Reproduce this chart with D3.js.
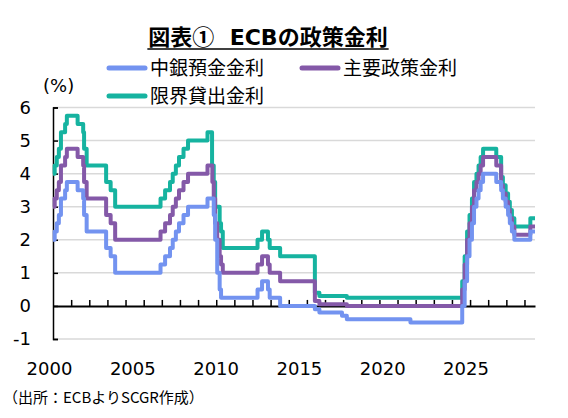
<!DOCTYPE html>
<html>
<head>
<meta charset="utf-8">
<script src="https://d3js.org/d3.v7.min.js"></script>
<style>
  body { margin: 0; background: #fff; }
  svg { display: block; }
</style>
</head>
<body>
<div id="chart"></div>
<script>
// ECB policy rates (%), value in force from each date
const changeDates = [
  "2000-01-01", "2000-02-04", "2000-03-17", "2000-04-28", "2000-06-09", "2000-09-01", "2000-10-06",
  "2001-05-11", "2001-08-31", "2001-09-18", "2001-11-09", "2002-12-06", "2003-03-07", "2003-06-06",
  "2005-12-06", "2006-03-08", "2006-06-15", "2006-08-09", "2006-10-11", "2006-12-13", "2007-03-14",
  "2007-06-13", "2008-07-09", "2008-10-09", "2008-10-15", "2008-11-12", "2008-12-10", "2009-01-21",
  "2009-03-11", "2009-04-08", "2009-05-13", "2011-04-13", "2011-07-13", "2011-11-09", "2011-12-14",
  "2012-07-11", "2014-06-11", "2014-09-10", "2015-12-09", "2016-03-16", "2019-09-18", "2022-07-27",
  "2022-09-14", "2022-11-02", "2022-12-21", "2023-02-08", "2023-03-22", "2023-05-10", "2023-06-21",
  "2023-08-02", "2023-09-20", "2024-06-12", "2024-09-18", "2024-10-23", "2024-12-18", "2025-02-05",
  "2025-03-12", "2025-04-23", "2025-06-11", "2026-04-29", "2026-08-01"
];
const depositRate = [
  2.00, 2.25, 2.50, 2.75, 3.25, 3.50, 3.75,
  3.50, 3.25, 2.75, 2.25, 1.75, 1.50, 1.00,
  1.25, 1.50, 1.75, 2.00, 2.25, 2.50, 2.75,
  3.00, 3.25, 3.25, 3.25, 2.75, 2.00, 1.00,
  0.50, 0.25, 0.25, 0.50, 0.75, 0.50, 0.25,
  0.00, -0.10, -0.20, -0.30, -0.40, -0.50, 0.00,
  0.75, 1.50, 2.00, 2.50, 3.00, 3.25, 3.50,
  3.75, 4.00, 3.75, 3.50, 3.25, 3.00, 2.75,
  2.50, 2.25, 2.00, 2.25, 2.25
];
const mainRate = [
  3.00, 3.25, 3.50, 3.75, 4.25, 4.50, 4.75,
  4.50, 4.25, 3.75, 3.25, 2.75, 2.50, 2.00,
  2.25, 2.50, 2.75, 3.00, 3.25, 3.50, 3.75,
  4.00, 4.25, 4.25, 3.75, 3.25, 2.50, 2.00,
  1.50, 1.25, 1.00, 1.25, 1.50, 1.25, 1.00,
  0.75, 0.15, 0.05, 0.05, 0.00, 0.00, 0.50,
  1.25, 2.00, 2.50, 3.00, 3.50, 3.75, 4.00,
  4.25, 4.50, 4.25, 3.65, 3.40, 3.15, 2.90,
  2.65, 2.40, 2.15, 2.40, 2.40
];
const marginalRate = [
  4.00, 4.25, 4.50, 4.75, 5.25, 5.50, 5.75,
  5.50, 5.25, 4.75, 4.25, 3.75, 3.50, 3.00,
  3.25, 3.50, 3.75, 4.00, 4.25, 4.50, 4.75,
  5.00, 5.25, 4.25, 4.25, 3.75, 3.00, 3.00,
  2.50, 2.25, 1.75, 2.00, 2.25, 2.00, 1.75,
  1.50, 0.40, 0.30, 0.30, 0.25, 0.25, 0.75,
  1.50, 2.25, 2.75, 3.25, 3.75, 4.00, 4.25,
  4.50, 4.75, 4.50, 3.90, 3.65, 3.40, 3.15,
  2.90, 2.65, 2.40, 2.65, 2.65
];
const seriesNames = ["中銀預金金利", "主要政策金利", "限界貸出金利"];
const seriesColors = ["#7393f0", "#8459a8", "#16b3a0"];
const yTicks = [-1, 0, 1, 2, 3, 4, 5, 6];
const yearTicks = d3.range(2001, 2027);
const yearLabels = [2000, 2005, 2010, 2015, 2020, 2025];

const width = 568, height = 418;
const parse = d3.timeParse("%Y-%m-%d");

const svg = d3.select("#chart").append("svg")
  .attr("width", width).attr("height", height);

const x = d3.scaleTime()
  .domain([parse("2000-01-01"), parse("2026-08-01")])
  .range([53, 535]);
const y = d3.scaleLinear().domain([-1, 6]).range([339, 107.5]);
// axis labels sit where the source chart printed them
const xLabel = d3.scaleLinear().domain([2000, 2025]).range([49.5, 466]);

// gridlines
svg.append("g").selectAll("line")
  .data(yTicks.filter(d => d !== 0))
  .join("line")
  .attr("x1", 53).attr("x2", 535)
  .attr("y1", d => y(d)).attr("y2", d => y(d))
  .attr("stroke", "#d9d9d9").attr("stroke-width", 1.5);

// y axis
const yAxis = svg.append("g")
  .attr("transform", "translate(53,0)")
  .call(d3.axisRight(y).tickValues(yTicks).tickSize(5).tickFormat(""));
yAxis.select(".domain").attr("stroke", "#000").attr("stroke-width", 1.5);
yAxis.selectAll(".tick line").attr("stroke", "#000").attr("stroke-width", 1.5);

svg.append("g").selectAll("text")
  .data(yTicks)
  .join("text")
  .attr("x", 31).attr("y", d => y(d))
  .attr("dy", "0.36em")
  .attr("text-anchor", "end")
  .attr("font-family", "DejaVu Sans, sans-serif")
  .attr("font-size", 18)
  .text(d => d);

// zero line with year ticks
const xAxis = svg.append("g")
  .attr("transform", `translate(0,${y(0)})`)
  .call(d3.axisTop(x).tickValues(yearTicks.map(d => new Date(d, 0, 1)))
    .tickSize(6).tickSizeOuter(0).tickFormat(""));
xAxis.select(".domain").attr("stroke", "#000").attr("stroke-width", 2);
xAxis.selectAll(".tick line").attr("stroke", "#000").attr("stroke-width", 1.5);

svg.append("g").selectAll("text")
  .data(yearLabels)
  .join("text")
  .attr("x", d => xLabel(d)).attr("y", 369)
  .attr("dy", "0.36em")
  .attr("text-anchor", "middle")
  .attr("font-family", "DejaVu Sans, sans-serif")
  .attr("font-size", 18)
  .text(d => d);

// lines
const dates = changeDates.map(parse);
const seriesValues = [depositRate, mainRate, marginalRate];
const line = d3.line()
  .x(d => x(d[0])).y(d => y(d[1]))
  .curve(d3.curveStepAfter);

[2, 1, 0].forEach(i => {
  svg.append("path")
    .datum(dates.map((dt, j) => [dt, seriesValues[i][j]]))
    .attr("d", line)
    .attr("fill", "none")
    .attr("stroke", seriesColors[i])
    .attr("stroke-width", 4)
    .attr("stroke-linejoin", "round");
});

// title
const title = svg.append("text")
  .attr("x", 268).attr("y", 45)
  .attr("text-anchor", "middle")
  .attr("font-family", "Noto Sans CJK JP, sans-serif")
  .attr("font-weight", "bold")
  .attr("font-size", 22)
  .attr("xml:space", "preserve");
title.append("tspan").text("図表①");
title.append("tspan").attr("font-family", "DejaVu Sans, sans-serif").text("  ECB");
title.append("tspan").text("の政策金利");
const tb = title.node().getBBox();
svg.append("line")
  .attr("x1", tb.x - 1).attr("x2", tb.x + tb.width + 1)
  .attr("y1", 49).attr("y2", 49)
  .attr("stroke", "#000").attr("stroke-width", 1.5);

// legend
const legendPos = [[107, 68], [300, 68], [107, 96]];
seriesNames.forEach((name, i) => {
  const [lx, ly] = legendPos[i];
  svg.append("line")
    .attr("x1", lx + 2).attr("x2", lx + 38)
    .attr("y1", ly).attr("y2", ly)
    .attr("stroke", seriesColors[i]).attr("stroke-width", 5)
    .attr("stroke-linecap", "round");
  svg.append("text")
    .attr("x", lx + 43).attr("y", ly)
    .attr("dy", "0.36em")
    .attr("font-family", "Noto Sans CJK JP, sans-serif")
    .attr("font-size", 19)
    .text(name);
});

svg.append("text")
  .attr("x", 43).attr("y", 86)
  .attr("dy", "0.36em")
  .attr("font-family", "DejaVu Sans, sans-serif")
  .attr("font-size", 18)
  .text("(%)");

svg.append("text")
  .attr("x", 3).attr("y", 398)
  .attr("dy", "0.36em")
  .attr("font-family", "Noto Sans CJK JP, sans-serif")
  .attr("font-size", 15)
  .text("（出所：ECBよりSCGR作成）");
</script>
</body>
</html>
